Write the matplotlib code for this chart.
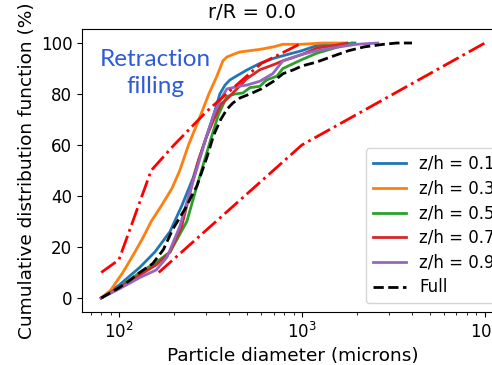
import numpy as np
import matplotlib.pyplot as plt

# cumulative size distributions at r/R = 0.0
x_01 = [80, 100, 130, 157, 190, 220, 254, 267, 300, 330, 356, 380, 404, 450, 500, 589, 700, 787, 1000, 1206, 1500, 1950]
y_01 = [0, 5, 12, 18, 26, 36, 47, 52, 63, 72, 80, 83.5, 85.5, 87.5, 89.4, 92, 94, 95, 97, 99, 99.5, 100]

x_03 = [80, 90, 105, 120, 135, 150, 170, 195, 215, 240, 277, 310, 343, 370, 389, 420, 458, 520, 589, 700, 787, 1000, 1300, 1700]
y_03 = [0, 3, 10, 17, 23.5, 30, 36, 43, 50, 60, 71, 80, 87, 93, 94.5, 95.5, 96.5, 97, 97.5, 98.5, 99.5, 99.5, 100, 100]

x_05 = [80, 100, 130, 160, 190, 235, 267, 288, 320, 350, 389, 430, 476, 520, 589, 640, 730, 787, 1000, 1206, 1500, 1870]
y_05 = [0, 4, 10, 14, 18, 30, 44, 52, 63, 72, 79, 80, 80.4, 82.5, 83, 85.5, 87, 90, 93.5, 96, 98, 100]

x_07 = [80, 100, 130, 160, 190, 220, 254, 272, 300, 330, 360, 389, 441, 500, 589, 700, 787, 1000, 1206, 1500, 1760]
y_07 = [0, 4, 9, 13, 18, 28, 46, 54, 63, 70, 76, 78, 82, 86, 89.5, 91.5, 93, 95.5, 98, 99, 100]

x_09 = [80, 100, 130, 160, 183, 215, 245, 270, 300, 330, 360, 389, 450, 500, 589, 694, 787, 1000, 1206, 1600, 2000, 2600]
y_09 = [0, 3.5, 8, 11, 16, 28, 42, 52, 63, 72, 78, 82, 83, 83.5, 85, 88, 93, 95.5, 97, 98.5, 99.5, 100]

x_full = [80, 100, 115, 130, 153, 175, 197, 230, 267, 302, 330, 360, 389, 420, 460, 520, 600, 700, 790, 900, 1000, 1200, 1500, 1800, 2200, 2800, 3300, 4000]
y_full = [0, 4, 7, 10, 13.5, 19, 27, 35, 44, 55, 64, 70, 74, 76.5, 78.5, 80, 82, 85, 88, 89.5, 91, 92.5, 95, 97, 98.5, 99.5, 100, 100]

# envelope of the retraction filling
x_upper = [80, 100, 150, 200, 300, 400, 600, 1000]
y_upper = [10, 15, 50, 60, 73, 81, 92, 100]
x_lower = [165, 1000, 10000]
y_lower = [10, 60, 100]

fig = plt.figure(figsize=(4.92, 3.65), dpi=100)
W, H = 492.0, 365.0
ax = fig.add_axes([82 / W, (H - 312) / H, (504 - 82) / W, (312 - 29) / H])

ax.plot(x_01, y_01, color='tab:blue', lw=2, label='z/h = 0.1')
ax.plot(x_03, y_03, color='tab:orange', lw=2, label='z/h = 0.3')
ax.plot(x_05, y_05, color='tab:green', lw=2, label='z/h = 0.5')
ax.plot(x_07, y_07, color='tab:red', lw=2, label='z/h = 0.7')
ax.plot(x_09, y_09, color='tab:purple', lw=2, label='z/h = 0.9')
ax.plot(x_full, y_full, 'k--', lw=2, label='Full')
ax.plot(x_upper, y_upper, color='red', ls='-.', lw=2)
ax.plot(x_lower, y_lower, color='red', ls='-.', lw=2)

ax.set_xscale('log')
ax.set_xlim(10 ** 1.798, 10 ** 4.105)
ax.set_ylim(-5.5, 105.5)
ax.set_yticks([0, 20, 40, 60, 80, 100])
ax.tick_params(labelsize=12)
ax.set_xlabel('Particle diameter (microns)', fontsize=13.3)
ax.set_ylabel('Cumulative distribution function (%)', fontsize=13.3, labelpad=3)

ax.legend(loc='lower left', bbox_to_anchor=(366 / W, (H - 303) / H),
          bbox_transform=fig.transFigure, borderaxespad=0, fontsize=12,
          labelspacing=0.4)

fig.text(252 / W, (H - 12) / H, 'r/R = 0.0', ha='center', va='center', fontsize=14)
fig.text(155 / W, (H - 73) / H, 'Retraction\nfilling', ha='center', va='center',
         fontsize=17.5, color='#2e5cd6', family='Lato', linespacing=1.32)

fig.savefig('out.png', dpi=100)
